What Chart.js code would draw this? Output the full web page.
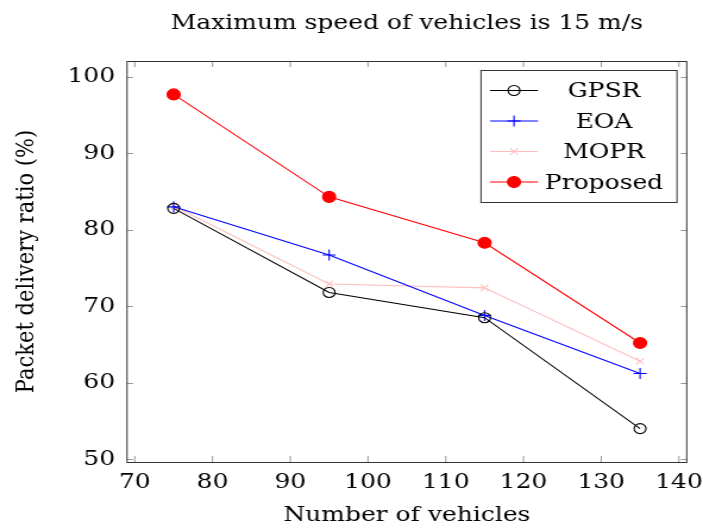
<!DOCTYPE html>
<html>
<head>
<meta charset="utf-8">
<script src="https://cdn.jsdelivr.net/npm/chart.js@4"></script>
<style>
  html, body { margin: 0; padding: 0; background: #fff; overflow: hidden; }
  /* the source figure is stretched horizontally, so the canvas is too */
  #pdrChart { display: block; width: 703px; height: 528px; }
</style>
</head>
<body>
<canvas id="pdrChart" width="591" height="528" style="width:703px;height:528px"></canvas>
<script>
// ---- data ----
const vehicles = [75, 95, 115, 135];
const gpsr = [82.8, 71.8, 68.5, 54.0];
const eoa = [83.0, 76.7, 68.8, 61.2];
const mopr = [83.1, 72.9, 72.4, 62.8];
const proposed = [97.7, 84.3, 78.3, 65.2];
const xTicks = [70, 80, 90, 100, 110, 120, 130, 140];
const yTicks = [50, 60, 70, 80, 90, 100];
const chartTitle = 'Maximum speed of vehicles is 15 m/s';

const SERIF = '"DejaVu Serif", "Liberation Serif", serif';
const FS = 21;
const SX = 703 / 591;            // horizontal stretch of the page
const px = v => v / SX;          // page x -> canvas x

function toPoints(ys) {
    return vehicles.map((x, i) => ({ x: x, y: ys[i] }));
}

// pgfplots style: 10% enlarged limits
const xMin = 75 - 6, xMax = 135 + 6;
const yLo = Math.min(...gpsr, ...eoa, ...mopr, ...proposed);
const yHi = Math.max(...gpsr, ...eoa, ...mopr, ...proposed);
const yPad = (yHi - yLo) * 0.1;

// title, frame, inward ticks and boxed legend
const pgfFrame = {
    id: 'pgfFrame',
    afterDraw(chart) {
        const ctx = chart.ctx;
        const a = chart.chartArea;
        const sx = chart.scales.x, sy = chart.scales.y;
        ctx.save();

        ctx.fillStyle = '#000';
        ctx.font = FS + 'px ' + SERIF;
        ctx.textAlign = 'center';
        ctx.textBaseline = 'alphabetic';
        ctx.fillText(chartTitle, (a.left + a.right) / 2, 29);

        ctx.strokeStyle = '#999';
        ctx.lineWidth = 1;
        ctx.beginPath();
        xTicks.forEach(v => {
            const x = sx.getPixelForValue(v);
            ctx.moveTo(x, a.bottom); ctx.lineTo(x, a.bottom - 6);
            ctx.moveTo(x, a.top); ctx.lineTo(x, a.top + 6);
        });
        yTicks.forEach(v => {
            const y = Math.round(sy.getPixelForValue(v)) + 0.5;
            ctx.moveTo(a.left, y); ctx.lineTo(a.left + px(6), y);
            ctx.moveTo(a.right, y); ctx.lineTo(a.right - px(6), y);
        });
        ctx.stroke();

        ctx.strokeStyle = '#333';
        ctx.strokeRect(a.left, Math.round(a.top) + 0.5,
            a.right - a.left, Math.round(a.bottom - a.top));

        // legend box
        const lx = px(481), ly = 70, lw = px(196), lh = 132, rowH = 30.5;
        const sets = chart.data.datasets;
        ctx.fillStyle = '#fff';
        ctx.fillRect(lx, ly, lw, lh);
        ctx.strokeStyle = '#333';
        ctx.strokeRect(lx, ly + 0.5, lw, lh);
        sets.forEach((ds, i) => {
            const cy = ly + 20.5 + i * rowH;
            ctx.strokeStyle = ds.borderColor;
            ctx.lineWidth = ds.borderWidth;
            ctx.beginPath();
            ctx.moveTo(px(490), cy); ctx.lineTo(px(538), cy);
            ctx.stroke();
            ctx.fillStyle = ds.pointBackgroundColor;
            ctx.strokeStyle = ds.pointBorderColor;
            ctx.lineWidth = ds.pointBorderWidth;
            Chart.helpers.drawPoint(ctx, {
                pointStyle: ds.pointStyle, radius: ds.pointRadius,
                rotation: 0, borderWidth: ds.pointBorderWidth
            }, px(514), cy);
            ctx.fillStyle = '#000';
            ctx.textAlign = 'center';
            ctx.textBaseline = 'alphabetic';
            ctx.fillText(ds.label, px(604), cy + 6.5);
        });
        ctx.restore();
    }
};

function series(label, ys, color, style, radius, fill) {
    return {
        label: label,
        data: toPoints(ys),
        showLine: true,
        borderColor: color,
        borderWidth: 1.1,
        pointStyle: style,
        pointRadius: radius,
        pointHoverRadius: radius,
        pointBorderColor: color,
        pointBackgroundColor: fill,
        pointBorderWidth: 1.1
    };
}

new Chart(document.getElementById('pdrChart'), {
    type: 'scatter',
    data: {
        datasets: [
            series('GPSR', gpsr, '#000000', 'circle', 5, 'rgba(255,255,255,0)'),
            series('EOA', eoa, '#0000ff', 'cross', 5.5, '#0000ff'),
            series('MOPR', mopr, '#ffbfbf', 'crossRot', 4.5, '#ffbfbf'),
            series('Proposed', proposed, '#ff0000', 'circle', 5.5, '#ff0000')
        ]
    },
    options: {
        responsive: false,
        animation: false,
        layout: { padding: { left: 0, right: px(15), top: 61, bottom: 0 } },
        plugins: {
            legend: { display: false },
            tooltip: { enabled: false },
            title: { display: false }
        },
        scales: {
            x: {
                type: 'linear',
                min: xMin,
                max: xMax,
                afterBuildTicks: s => { s.ticks = xTicks.map(v => ({ value: v })); },
                afterFit: s => { s.height = 66; },
                grid: { display: false },
                border: { display: false },
                ticks: { color: '#000', padding: 0, maxRotation: 0, font: { family: SERIF, size: FS } },
                title: {
                    display: true,
                    text: 'Number of vehicles',
                    color: '#000',
                    font: { family: SERIF, size: FS, lineHeight: 1 },
                    padding: { top: 0, bottom: 2 }
                }
            },
            y: {
                type: 'linear',
                min: yLo - yPad,
                max: yHi + yPad,
                afterBuildTicks: s => { s.ticks = yTicks.map(v => ({ value: v })); },
                afterFit: s => { s.width = px(127); },
                grid: { display: false },
                border: { display: false },
                ticks: { color: '#000', padding: 2, font: { family: SERIF, size: FS } },
                title: {
                    display: true,
                    text: 'Packet delivery ratio (%)',
                    color: '#000',
                    font: { family: SERIF, size: FS, lineHeight: 1 },
                    padding: { top: 12, bottom: 0 }
                }
            }
        }
    },
    plugins: [pgfFrame]
});
</script>
</body>
</html>
